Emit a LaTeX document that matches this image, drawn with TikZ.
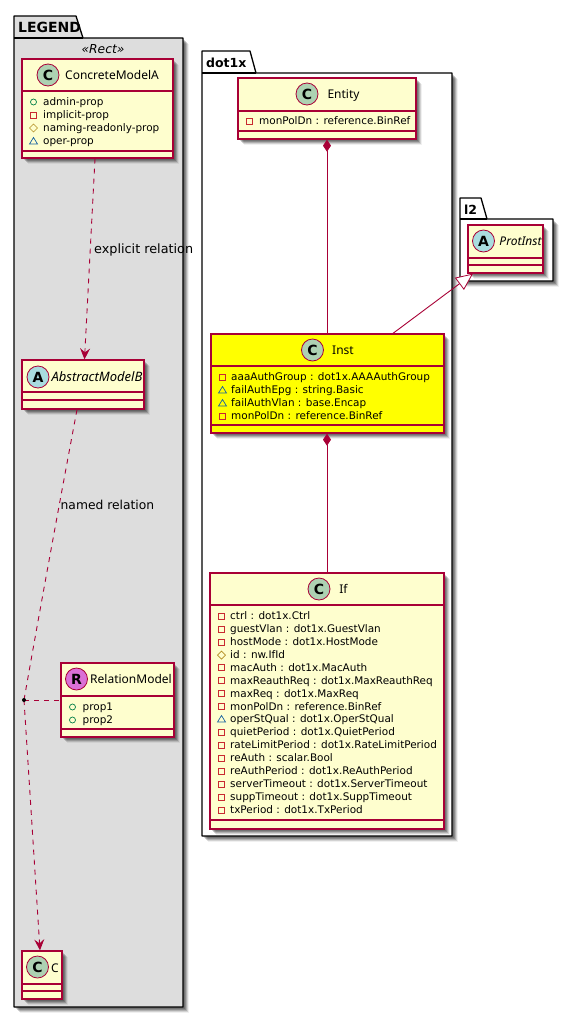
\documentclass[tikz,border=0pt]{standalone}
\usepackage{fontspec}
\setmainfont{DejaVu Sans}
\newfontfamily\namefont{Noto Sans}
\usetikzlibrary{arrows.meta,fit,calc}
\definecolor{crim}{HTML}{A80036}
\definecolor{classbg}{HTML}{FEFECE}
\definecolor{pkgbg}{HTML}{DDDDDD}
\definecolor{instbg}{HTML}{FFFF00}
\definecolor{circC}{HTML}{ADD1B2}
\definecolor{circA}{HTML}{A9DCDF}
\definecolor{circR}{HTML}{DA70D6}
\definecolor{icoplus}{HTML}{038048}
\definecolor{icominus}{HTML}{C82930}
\definecolor{icohash}{HTML}{B38D22}
\definecolor{icotilde}{HTML}{1963A0}
\tikzset{
  classbox/.style={draw=crim,line width=1.3pt,inner sep=0pt,fit={#1}},
  classline/.style={draw=crim,line width=1.3pt},
  pkgline/.style={draw=black,line width=1.3pt,line join=round},
  rel/.style={draw=crim,line width=0.9pt},
  reldash/.style={rel,dash pattern=on 5pt off 5pt},
  opentip/.style={-{Stealth[length=11pt,width=10pt,inset=4pt,fill=crim]}},
  comp/.style={{Diamond[length=12pt,width=8pt,fill=crim]}-},
  inherit/.style={-{Triangle[length=17pt,width=15pt,fill=white,line width=0.8pt]}},
  spot/.style={circle,draw=crim,line width=0.8pt,minimum size=22pt,inner sep=0pt,font=\fontsize{14}{14}\selectfont\bfseries,text=black},
  cname/.style={anchor=base,inner sep=0pt,font=\namefont\fontsize{12}{14}\selectfont,text=black},
  cnamei/.style={anchor=base,inner sep=0pt,font=\namefont\fontsize{12}{14}\selectfont\itshape,text=black},
  member/.style={anchor=base west,inner sep=0pt,font=\fontsize{10.45}{12}\selectfont,text=black},
  pkgname/.style={anchor=base west,inner sep=0pt,font=\fontsize{12.5}{14}\selectfont\bfseries,text=black},
  rellabel/.style={anchor=base west,inner sep=0pt,font=\fontsize{12.3}{14}\selectfont,text=black},
}
\newcount\mcnt
\newcommand{\softshadow}[4]{%
  \foreach \d/\o in {1/.12,2/.17,3/.20,4/.17,5/.12,6/.06}{
    \fill[black,opacity=\o] (#1+\d,#2+\d) rectangle (#3+\d,#4+\d);
  }}
\newcommand{\umlclass}[8]{%
  \softshadow{#2}{#3}{#4}{#5}
  \node[classbox={(#2,#3)(#4,#5)},fill=#8] (#1) {};
  \draw[classline] (#2,#6) -- (#4,#6);
  \draw[classline] (#2,#7) -- (#4,#7);
}
\newcommand{\icoP}[2]{\draw[icoplus,line width=.7pt] (#1,#2) circle (3);}
\newcommand{\icoM}[2]{\draw[icominus,line width=.7pt] (#1-3,#2-3) rectangle (#1+3,#2+3);}
\newcommand{\icoH}[2]{\draw[icohash,line width=.7pt] (#1-4,#2) -- (#1,#2-4) -- (#1+4,#2) -- (#1,#2+4) -- cycle;}
\newcommand{\icoT}[2]{\draw[icotilde,line width=.7pt] (#1-4,#2+3) -- (#1,#2-3.5) -- (#1+4,#2+3) -- cycle;}
\newcommand{\mem}[5]{%
  \global\advance\mcnt by 1
  \csname ico#1\endcsname{#2}{#3}
  \node[member] (m\the\mcnt) at (#4,#3+3.5) {#5};
}
\begin{document}
\begin{tikzpicture}[x=1pt,y=-1pt]
\useasboundingbox (0,0) rectangle (573,1018);
\fill[white] (0,0) rectangle (573,1018);

% LEGEND package
\softshadow{14}{38}{183}{1007}
\draw[pkgline,fill=pkgbg] (14,38) -- (14,16) -- (76,16) -- (83,38) -- (183,38) -- (183,1007) -- (14,1007) -- cycle;
\draw[pkgline] (14,38) -- (83,38);
\node[pkgname,font=\fontsize{14}{16}\selectfont\bfseries] (legendname) at (18,32) {LEGEND};
\node[anchor=base,inner sep=0pt,font=\fontsize{12.3}{14}\selectfont\itshape] (stereo) at (103,53.5) {«Rect»};

% dot1x package
\softshadow{202}{73}{452}{836}
\draw[pkgline,fill=white] (202,73) -- (202,51) -- (250,51) -- (256,73) -- (452,73) -- (452,836) -- (202,836) -- cycle;
\draw[pkgline] (202,73) -- (256,73);
\node[pkgname] (dotname) at (206,67) {dot1x};

% l2 package
\softshadow{460}{219}{553}{281}
\draw[pkgline,fill=white] (460,219) -- (460,198) -- (481,198) -- (487,219) -- (553,219) -- (553,281) -- (460,281) -- cycle;
\draw[pkgline] (460,219) -- (487,219);
\node[pkgname] (ltwoname) at (464,214) {l2};

% classes
\umlclass{conc}{22}{59}{173}{158}{91}{151}{classbg}
\umlclass{abst}{22}{360}{144}{409}{392}{400}{classbg}
\umlclass{relm}{61}{663}{174}{737}{696}{729}{classbg}
\umlclass{cls}{22}{951}{62}{999}{984}{991}{classbg}
\umlclass{ent}{238}{78}{416}{139}{111}{131}{classbg}
\umlclass{inst}{211}{334}{444}{433}{366}{425}{instbg}
\umlclass{ifc}{210}{573}{444}{829}{605}{820}{classbg}
\umlclass{prot}{468}{225}{543}{273}{258}{265}{classbg}

% spots
\node[spot,fill=circC] (s1) at (48,75) {C};
\node[spot,fill=circA] (s2) at (38,377) {A};
\node[spot,fill=circR] (s3) at (76.5,679) {R};
\node[spot,fill=circC] (s4) at (37.5,967) {C};
\node[spot,fill=circC] (s5) at (307,94) {C};
\node[spot,fill=circC] (s6) at (312.5,350) {C};
\node[spot,fill=circC] (s7) at (319,589) {C};
\node[spot,fill=circA] (s8) at (483.5,241) {A};

% names
\node[cname] (n1) at (112,79.5) {ConcreteModelA};
\node[cnamei,font=\namefont\fontsize{13}{15}\selectfont\itshape] (n2) at (97,381.5) {AbstractModelB};
\node[cname] (n3) at (131,683.5) {RelationModel};
\node[cname] (n4) at (55,972) {C};
\node[cname] (n5) at (343.5,98.5) {Entity};
\node[cname] (n6) at (343,354.5) {Inst};
\node[cname] (n7) at (343.5,593.5) {If};
\node[cnamei] (n8) at (520.5,245.5) {ProtInst};

% members
\mem{P}{33.5}{102}{43}{admin-prop}
\mem{M}{33.5}{115}{43}{implicit-prop}
\mem{H}{33.5}{128}{43}{naming-readonly-prop}
\mem{T}{33.5}{141}{43}{oper-prop}
\mem{P}{72.5}{707}{82.5}{prop1}
\mem{P}{72.5}{720}{82.5}{prop2}
\mem{M}{249}{121}{259}{monPolDn : reference.BinRef}
\mem{M}{222.5}{377}{231}{aaaAuthGroup : dot1x.AAAAuthGroup}
\mem{T}{222.5}{390}{231}{failAuthEpg : string.Basic}
\mem{T}{222.5}{403}{231}{failAuthVlan : base.Encap}
\mem{M}{222.5}{416}{231}{monPolDn : reference.BinRef}
\mem{M}{221.5}{616}{230}{ctrl : dot1x.Ctrl}
\mem{M}{221.5}{629}{230}{guestVlan : dot1x.GuestVlan}
\mem{M}{221.5}{642}{230}{hostMode : dot1x.HostMode}
\mem{H}{221.5}{655}{230}{id : nw.IfId}
\mem{M}{221.5}{667.5}{230}{macAuth : dot1x.MacAuth}
\mem{M}{221.5}{680.5}{230}{maxReauthReq : dot1x.MaxReauthReq}
\mem{M}{221.5}{693.5}{230}{maxReq : dot1x.MaxReq}
\mem{M}{221.5}{706.5}{230}{monPolDn : reference.BinRef}
\mem{T}{221.5}{719}{230}{operStQual : dot1x.OperStQual}
\mem{M}{221.5}{732}{230}{quietPeriod : dot1x.QuietPeriod}
\mem{M}{221.5}{745}{230}{rateLimitPeriod : dot1x.RateLimitPeriod}
\mem{M}{221.5}{758}{230}{reAuth : scalar.Bool}
\mem{M}{221.5}{771}{230}{reAuthPeriod : dot1x.ReAuthPeriod}
\mem{M}{221.5}{784}{230}{serverTimeout : dot1x.ServerTimeout}
\mem{M}{221.5}{797}{230}{suppTimeout : dot1x.SuppTimeout}
\mem{M}{221.5}{810}{230}{txPeriod : dot1x.TxPeriod}

% connectors
\coordinate (knotc) at (24,700);
\draw[reldash,opentip] ([xshift=-2.5pt]conc.south) -- ([xshift=1.5pt]abst.north);
\draw[reldash] ([xshift=-6pt]abst.south) .. controls (60,500) and (38,620) .. (knotc);
\draw[reldash,opentip] (knotc) -- ([xshift=-2pt]cls.north);
\draw[reldash] (knotc) -- (relm.west |- knotc);
\draw[rel,comp] (ent.south) -- (ent.south |- inst.north);
\draw[rel,comp] (ent.south |- inst.south) -- (ent.south |- ifc.north);
\draw[rel,inherit] ([xshift=65.5pt]inst.north) -- ([xshift=-32.5pt]prot.south);
\node[circle,fill=black,minimum size=4pt,inner sep=0pt] (knot) at (knotc) {};

\node[rellabel,font=\fontsize{12.8}{14}\selectfont] (lab1) at (94,253) {explicit relation};
\node[rellabel] (lab2) at (60.5,509) {named relation};
\end{tikzpicture}
\end{document}
